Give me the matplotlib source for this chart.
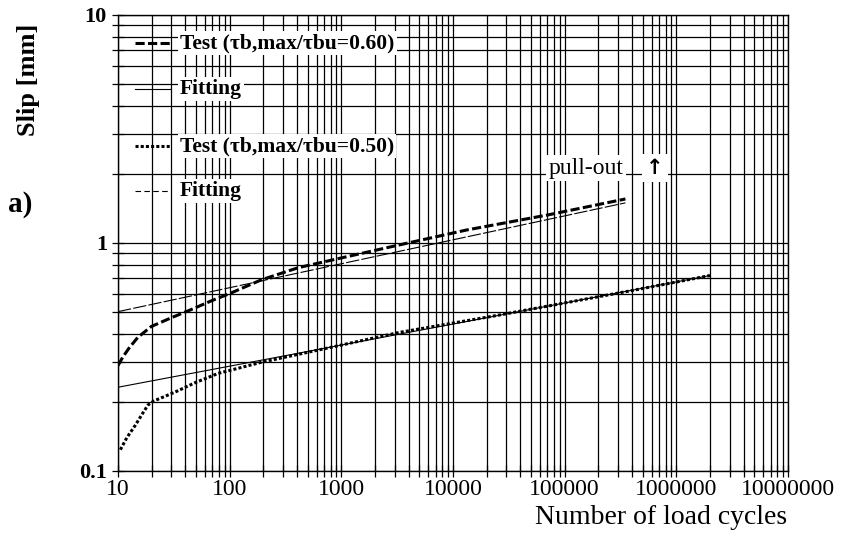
import matplotlib
matplotlib.use("Agg")
import matplotlib.pyplot as plt
from matplotlib.ticker import LogLocator, NullFormatter, FixedLocator, FixedFormatter

plt.rcParams['font.family'] = ['Liberation Serif', 'DejaVu Serif']

# test curve, tau_b,max/tau_bu = 0.60
cycles_06 = [10, 11, 12.5, 15, 19.8, 30, 45, 70, 100, 193, 414, 1000, 3280, 13200, 72000, 350000]
slip_06 = [0.29, 0.315, 0.345, 0.385, 0.43, 0.47, 0.51, 0.56, 0.60, 0.69, 0.78, 0.86, 0.98, 1.14, 1.33, 1.56]
# power-law fit for the 0.60 test (straight line in log-log)
fit_cycles_06 = [10, 350000]
fit_slip_06 = [0.50, 1.50]

# test curve, tau_b,max/tau_bu = 0.50
cycles_05 = [10.5, 12, 14.2, 16.5, 18.6, 21, 32.5, 50, 79, 193, 771, 3280, 25900, 410000, 2000000]
slip_05 = [0.124, 0.14, 0.158, 0.178, 0.195, 0.203, 0.222, 0.245, 0.268, 0.30, 0.347, 0.405, 0.483, 0.62, 0.72]
fit_cycles_05 = [10, 2000000]
fit_slip_05 = [0.233, 0.72]

xticks = [10, 100, 1000, 10000, 100000, 1000000, 10000000]
xtick_labels = ["10", "100", "1000", "10000", "100000", "1000000", "10000000"]
yticks = [0.1, 1, 10]
ytick_labels = ["0.1", "1", "10"]

fig = plt.figure(figsize=(8.46, 5.37), dpi=100)
ax = fig.add_axes([118/846, 1-471/537, (788-118)/846, (471-15)/537])

ax.set_xscale('log')
ax.set_yscale('log')
ax.set_xlim(10, 1e7)
ax.set_ylim(0.1, 10)

# dense log grid
ax.xaxis.set_minor_locator(LogLocator(base=10, subs=range(2, 10)))
ax.yaxis.set_minor_locator(LogLocator(base=10, subs=range(2, 10)))
ax.xaxis.set_minor_formatter(NullFormatter())
ax.yaxis.set_minor_formatter(NullFormatter())
ax.xaxis.set_major_locator(FixedLocator(xticks))
ax.xaxis.set_major_formatter(FixedFormatter(xtick_labels))
ax.yaxis.set_major_locator(FixedLocator(yticks))
ax.yaxis.set_major_formatter(FixedFormatter(ytick_labels))
ax.grid(True, which='both', color='black', linewidth=0.9)
ax.set_axisbelow(True)
for s in ax.spines.values():
    s.set_linewidth(1.0)

ax.tick_params(axis='both', which='both', direction='inout', length=8, width=0.9)
ax.tick_params(axis='x', which='both', labelsize=17, pad=2)
ax.tick_params(axis='y', which='both', labelsize=16, pad=4)
for lab in ax.get_yticklabels():
    lab.set_fontweight('bold')

# curves
ax.plot(cycles_06, slip_06, color='black', linewidth=2.2, linestyle=(0, (3.0, 1.1)), zorder=4)
ax.plot(fit_cycles_06, fit_slip_06, color='black', linewidth=0.8, linestyle=(0, (12, 2)), zorder=3)
ax.plot(cycles_05, slip_05, color='black', linewidth=2.2, linestyle=(0, (1.0, 0.7)), zorder=4)
ax.plot(fit_cycles_05, fit_slip_05, color='black', linewidth=0.8, linestyle='-', zorder=3)

# hand-made legend with white boxes over the grid
legend_rows = [
    ("Test (\u03c4b,max/\u03c4bu=0.60)", dict(linewidth=2.2, linestyle=(0, (3.0, 1.1))), 43),
    ("Fitting", dict(linewidth=0.8, linestyle='-'), 89),
    ("Test (\u03c4b,max/\u03c4bu=0.50)", dict(linewidth=2.2, linestyle=(0, (1.0, 0.7))), 146),
    ("Fitting", dict(linewidth=0.8, linestyle=(0, (5, 3))), 191),
]
for label, style, ypx in legend_rows:
    yy = 1 - (ypx - 15) / 456
    ax.plot([(135-118)/670, (170-118)/670], [yy, yy], color='black',
            transform=ax.transAxes, zorder=5, clip_on=False, **style)
    ax.text((180-118)/670, yy, label, transform=ax.transAxes, fontsize=15.5,
            fontweight='bold', va='center', ha='left', zorder=6,
            bbox=dict(facecolor='white', edgecolor='none', pad=1.5))

ax.text(1.55e5, 2.13, "pull-out", fontsize=17, ha='center', va='center', zorder=6,
        bbox=dict(facecolor='white', edgecolor='none', pad=2))
ax.text(6.4e5, 2.13, "\u2191", fontsize=15, fontweight='bold', family='DejaVu Sans',
        ha='center', va='center', zorder=6,
        bbox=dict(facecolor='white', edgecolor='none', pad=3))

fig.text(787/846, 1-518/537, "Number of load cycles", fontsize=20, ha='right', va='center')
fig.text(28/846, 1-80/537, "Slip [mm]", fontsize=19, fontweight='bold',
         rotation=90, ha='center', va='center')
fig.text(20/846, 1-205/537, "a)", fontsize=21, fontweight='bold', ha='center', va='center')

fig.savefig("out.png", dpi=100)
